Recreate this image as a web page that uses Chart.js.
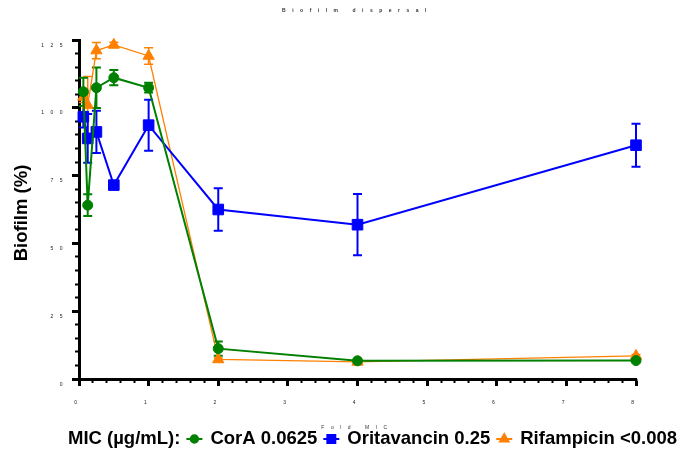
<!DOCTYPE html>
<html>
<head>
<meta charset="utf-8">
<title>Biofilm dispersal</title>
<script src="https://cdn.jsdelivr.net/npm/chart.js@4/dist/chart.umd.min.js"></script>
<style>
  html, body { margin: 0; padding: 0; background: #fff; }
</style>
</head>
<body>
<canvas id="biofilmChart" width="682" height="449"></canvas>
<script>
// Fold MIC (x values) and mean biofilm % with SD
const FOLD_MIC = [0.0625, 0.125, 0.25, 0.5, 1, 2, 4, 8];

const CORA_MEAN = [105.9, 64.1, 107.4, 111.1, 107.4, 11.2, 6.7, 6.8];
const CORA_SD = [5.2, 4.0, 7.5, 2.8, 1.8, 2.6, 0.5, 0.5];

const ORITA_MEAN = [96.7, 88.7, 91.1, 71.5, 93.6, 62.5, 56.9, 86.2];
const ORITA_SD = [4.0, 9.0, 7.8, 0.8, 9.4, 7.8, 11.3, 7.9];

const RIF_MEAN = [104.0, 101.0, 121.1, 123.2, 119.1, 7.2, 6.3, 8.5];
const RIF_SD = [2.0, 10.5, 3.0, 1.0, 3.0, 0.5, 0.5, 0.5];

const SERIES_LABELS = ["CorA 0.0625", "Oritavancin 0.25", "Rifampicin <0.008"];
const LEGEND_TITLE = "MIC (\u00b5g/mL):";

const X_TICKS = [0, 1, 2, 3, 4, 5, 6, 7, 8];
const Y_TICKS = [0, 25, 50, 75, 100, 125];

const GREEN = "rgb(0,128,0)";
const BLUE = "rgb(0,0,255)";
const ORANGE = "rgb(255,128,0)";

const TINY_FONT = { family: "Arial, 'Liberation Sans', sans-serif", size: 5 };
const TINY_SPACING = "6.5px";
const CAP = 4.5;

const ERRORS = [CORA_SD, ORITA_SD, RIF_SD];

function toPoints(means) {
  return FOLD_MIC.map((x, i) => ({ x, y: means[i] }));
}

// tiny spaced-out labels, like the original export
const letterSpacingPlugin = {
  id: "tinyLetterSpacing",
  beforeDraw(chart) {
    chart.ctx.letterSpacing = TINY_SPACING;
  },
  afterDraw(chart) {
    chart.ctx.letterSpacing = "0px";
  },
};

const errorBarPlugin = {
  id: "errorBars",
  beforeDatasetsDraw(chart) {
    const { ctx } = chart;
    const x = chart.scales.x;
    const y = chart.scales.y;
    for (let i = chart.data.datasets.length - 1; i >= 0; i--) {
      if (!chart.isDatasetVisible(i)) continue;
      const ds = chart.data.datasets[i];
      const errs = ERRORS[i];
      ctx.save();
      ctx.strokeStyle = ds.borderColor;
      ctx.lineWidth = ds.errorBarWidth;
      ds.data.forEach((pt, j) => {
        const err = errs[j];
        if (!err) return;
        const px = x.getPixelForValue(pt.x);
        const top = y.getPixelForValue(pt.y + err);
        const bottom = y.getPixelForValue(pt.y - err);
        ctx.beginPath();
        ctx.moveTo(px, top);
        ctx.lineTo(px, bottom);
        ctx.moveTo(px - CAP, top);
        ctx.lineTo(px + CAP, top);
        ctx.moveTo(px - CAP, bottom);
        ctx.lineTo(px + CAP, bottom);
        ctx.stroke();
      });
      ctx.restore();
    }
  },
};

// y axis title and the one-line legend at the bottom
const labelsPlugin = {
  id: "extraLabels",
  afterDraw(chart) {
    const { ctx } = chart;
    ctx.save();
    ctx.letterSpacing = "0px";
    ctx.fillStyle = "#000";
    ctx.font = "bold 18.5px Arial, 'Liberation Sans', sans-serif";

    ctx.save();
    ctx.translate(22, 213);
    ctx.rotate(-Math.PI / 2);
    ctx.textAlign = "center";
    ctx.textBaseline = "middle";
    ctx.fillText("Biofilm (%)", 0, 0);
    ctx.restore();

    const datasets = chart.data.datasets;
    const lineLen = 16;
    const gapBefore = 6;
    const gapAfter = 8;
    let cx = 68;
    const cy = 439;
    ctx.textAlign = "left";
    ctx.textBaseline = "middle";
    ctx.fillText(LEGEND_TITLE, cx, cy);
    cx += ctx.measureText(LEGEND_TITLE).width;

    datasets.forEach((ds) => {
      cx += gapBefore;
      ctx.strokeStyle = ds.borderColor;
      ctx.fillStyle = ds.backgroundColor;
      ctx.lineWidth = 2;
      ctx.beginPath();
      ctx.moveTo(cx, cy);
      ctx.lineTo(cx + lineLen, cy);
      ctx.stroke();
      Chart.helpers.drawPoint(
        ctx,
        { pointStyle: ds.pointStyle, radius: ds.pointRadius * 0.75, rotation: 0, borderWidth: 1 },
        cx + lineLen / 2,
        cy
      );
      cx += lineLen + gapAfter;
      ctx.fillStyle = "#000";
      ctx.fillText(ds.label, cx, cy);
      cx += ctx.measureText(ds.label).width;
    });
    ctx.restore();
  },
};

new Chart(document.getElementById("biofilmChart"), {
  type: "line",
  data: {
    datasets: [
      {
        label: SERIES_LABELS[0],
        data: toPoints(CORA_MEAN),
        borderColor: GREEN,
        backgroundColor: GREEN,
        borderWidth: 2,
        pointStyle: "circle",
        pointRadius: 5,
        pointBorderWidth: 1,
        errorBarWidth: 2,
        clip: false,
      },
      {
        label: SERIES_LABELS[1],
        data: toPoints(ORITA_MEAN),
        borderColor: BLUE,
        backgroundColor: BLUE,
        borderWidth: 2,
        pointStyle: "rect",
        pointRadius: 7.5,
        pointBorderWidth: 1,
        errorBarWidth: 2,
        clip: false,
      },
      {
        label: SERIES_LABELS[2],
        data: toPoints(RIF_MEAN),
        borderColor: ORANGE,
        backgroundColor: ORANGE,
        borderWidth: 1.3,
        pointStyle: "triangle",
        pointRadius: 6.5,
        pointBorderWidth: 1,
        errorBarWidth: 1.5,
        clip: false,
      },
    ],
  },
  options: {
    responsive: false,
    animation: false,
    layout: { padding: { left: 0, right: 46, top: 0, bottom: 0 } },
    plugins: {
      legend: { display: false },
      tooltip: { enabled: false },
      title: {
        display: true,
        text: "Biofilm dispersal",
        fullSize: false,
        color: "#333",
        font: TINY_FONT,
        padding: { top: 8, bottom: 26 },
      },
    },
    scales: {
      x: {
        type: "linear",
        position: "bottom",
        min: 0,
        max: 8,
        afterBuildTicks: (scale) => {
          scale.ticks = X_TICKS.map((value) => ({ value }));
        },
        afterFit: (scale) => {
          scale.height = 70;
        },
        border: { display: true, color: "#000", width: 3 },
        grid: { drawOnChartArea: false, drawTicks: true, tickLength: 7, tickWidth: 3, tickColor: "#000" },
        ticks: { color: "#222", font: TINY_FONT, padding: 14, maxRotation: 0, autoSkip: false },
        title: {
          display: true,
          text: "Fold MIC",
          color: "#333",
          font: TINY_FONT,
          padding: { top: 0, bottom: 18 },
        },
      },
      xMinor: {
        type: "linear",
        position: { y: 0 },
        axis: "x",
        min: 0,
        max: 8,
        border: { display: false },
        grid: { drawOnChartArea: false, drawTicks: true, tickLength: 4, tickWidth: 2, tickColor: "#000" },
        ticks: { display: false, stepSize: 0.2 },
      },
      y: {
        type: "linear",
        position: "left",
        min: 0,
        max: 125,
        afterBuildTicks: (scale) => {
          scale.ticks = Y_TICKS.map((value) => ({ value }));
        },
        afterFit: (scale) => {
          scale.width = 79;
        },
        border: { display: true, color: "#000", width: 3 },
        grid: { drawOnChartArea: false, drawTicks: true, tickLength: 7, tickWidth: 3, tickColor: "#000" },
        // empty first line pushes each label a little below its tick, as in the original
        ticks: {
          color: "#222",
          font: { ...TINY_FONT, lineHeight: 2.1 },
          padding: 3,
          callback: (value) => ["", String(value)],
        },
      },
      yMinor: {
        type: "linear",
        position: { x: 0 },
        axis: "y",
        min: 0,
        max: 125,
        border: { display: false },
        grid: { drawOnChartArea: false, drawTicks: true, tickLength: 4, tickWidth: 2, tickColor: "#000" },
        ticks: { display: false, stepSize: 5 },
      },
    },
  },
  plugins: [letterSpacingPlugin, errorBarPlugin, labelsPlugin],
});
</script>
</body>
</html>
